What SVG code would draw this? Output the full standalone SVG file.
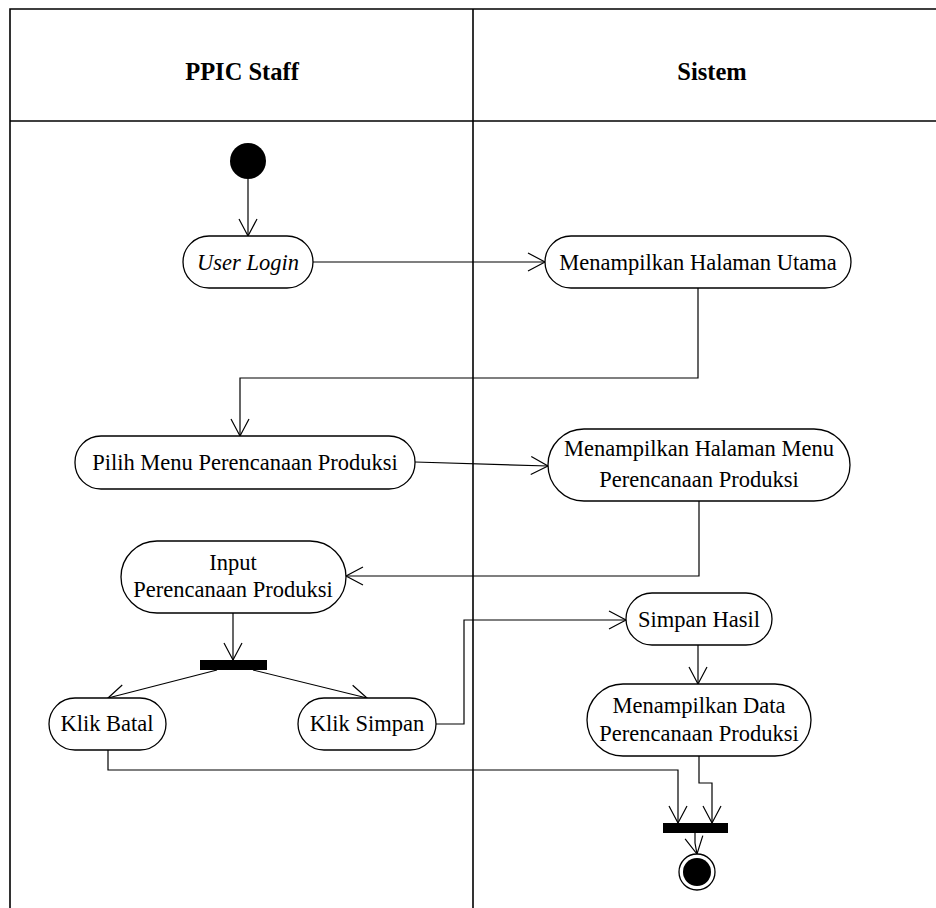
<svg xmlns="http://www.w3.org/2000/svg" width="936" height="908" viewBox="0 0 936 908">
  <style>
    .frame { fill: none; stroke: #000; stroke-width: 1.6; }
    .act { fill: #fff; stroke: #000; stroke-width: 1.3; }
    .lbl { font-family: 'Liberation Serif', Tinos, 'Times New Roman', Times, 'DejaVu Serif', serif; font-size: 22.5px; fill: #000; text-anchor: middle; }
    .head { font-family: 'Liberation Serif', Tinos, 'Times New Roman', Times, 'DejaVu Serif', serif; font-size: 24.5px; font-weight: bold; fill: #000; text-anchor: middle; }
    .flow { fill: none; stroke: #000; stroke-width: 1.2; marker-end: url(#arrow); }
    .bar { fill: #000; }
  </style>
  <defs>
    <marker id="arrow" markerUnits="userSpaceOnUse" markerWidth="40" markerHeight="40" viewBox="-20 -20 40 40" refX="0" refY="0" orient="auto">
      <path d="M-17,-9 L0,0 L-17,9" fill="none" stroke="#000" stroke-width="1.2"/>
    </marker>
  </defs>

  <!-- swimlane frame -->
  <g id="lanes">
    <path class="frame" d="M10,908 V9 H936"/>
    <line class="frame" x1="10" y1="121" x2="936" y2="121"/>
    <line class="frame" x1="473" y1="9" x2="473" y2="908"/>
    <text class="head" x="242" y="80">PPIC Staff</text>
    <text class="head" x="712" y="80">Sistem</text>
  </g>

  <!-- connectors -->
  <g id="connectors">
    <path class="flow" d="M248,179 V236"/>
    <path class="flow" d="M313,262 H545"/>
    <path class="flow" d="M698,288 V378 H240 V436"/>
    <path class="flow" d="M415,462 L548,466"/>
    <path class="flow" d="M699,501 V576 H346"/>
    <path class="flow" d="M233,613 V660"/>
    <path class="flow" d="M217,670 L108,698"/>
    <path class="flow" d="M253,670 L367,698"/>
    <path class="flow" d="M436,724 H464 V620 H626"/>
    <path class="flow" d="M698,645 V684"/>
    <path class="flow" d="M699,756 V783 H712 V823"/>
    <path class="flow" d="M108,750 V770 H678 V823"/>
    <path class="flow" d="M695,833 V843 L697,854"/>
  </g>

  <g id="start">
    <circle cx="248" cy="161" r="18" fill="#000"/>
  </g>

  <g id="user-login">
    <rect class="act" x="183" y="236" width="130" height="52" rx="26"/>
    <text class="lbl" x="248" y="270" font-style="italic">User Login</text>
  </g>

  <g id="halaman-utama">
    <rect class="act" x="545" y="236" width="306" height="52" rx="26"/>
    <text class="lbl" x="698" y="270">Menampilkan Halaman Utama</text>
  </g>

  <g id="pilih-menu">
    <rect class="act" x="75" y="436" width="340" height="53" rx="26"/>
    <text class="lbl" x="245" y="470">Pilih Menu Perencanaan Produksi</text>
  </g>

  <g id="halaman-menu">
    <rect class="act" x="548" y="429" width="302" height="72" rx="36"/>
    <text class="lbl" x="699" y="456">Menampilkan Halaman Menu</text>
    <text class="lbl" x="699" y="487">Perencanaan Produksi</text>
  </g>

  <g id="input">
    <rect class="act" x="121" y="541" width="225" height="72" rx="36"/>
    <text class="lbl" x="233" y="570">Input</text>
    <text class="lbl" x="233" y="597">Perencanaan Produksi</text>
  </g>

  <g id="fork">
    <rect class="bar" x="200" y="660" width="67" height="10"/>
  </g>

  <g id="klik-batal">
    <rect class="act" x="49" y="698" width="117" height="52" rx="26"/>
    <text class="lbl" x="107" y="731">Klik Batal</text>
  </g>

  <g id="klik-simpan">
    <rect class="act" x="298" y="698" width="138" height="52" rx="26"/>
    <text class="lbl" x="367" y="731">Klik Simpan</text>
  </g>

  <g id="simpan-hasil">
    <rect class="act" x="626" y="593" width="146" height="52" rx="26"/>
    <text class="lbl" x="699" y="627">Simpan Hasil</text>
  </g>

  <g id="tampil-data">
    <rect class="act" x="587" y="684" width="224" height="72" rx="36"/>
    <text class="lbl" x="699" y="713">Menampilkan Data</text>
    <text class="lbl" x="699" y="741">Perencanaan Produksi</text>
  </g>

  <g id="join">
    <rect class="bar" x="663" y="823" width="65" height="10"/>
  </g>

  <g id="end">
    <circle cx="697" cy="872" r="18" fill="#fff" stroke="#000" stroke-width="1.3"/>
    <circle cx="697" cy="872" r="14" fill="#000"/>
  </g>
</svg>
